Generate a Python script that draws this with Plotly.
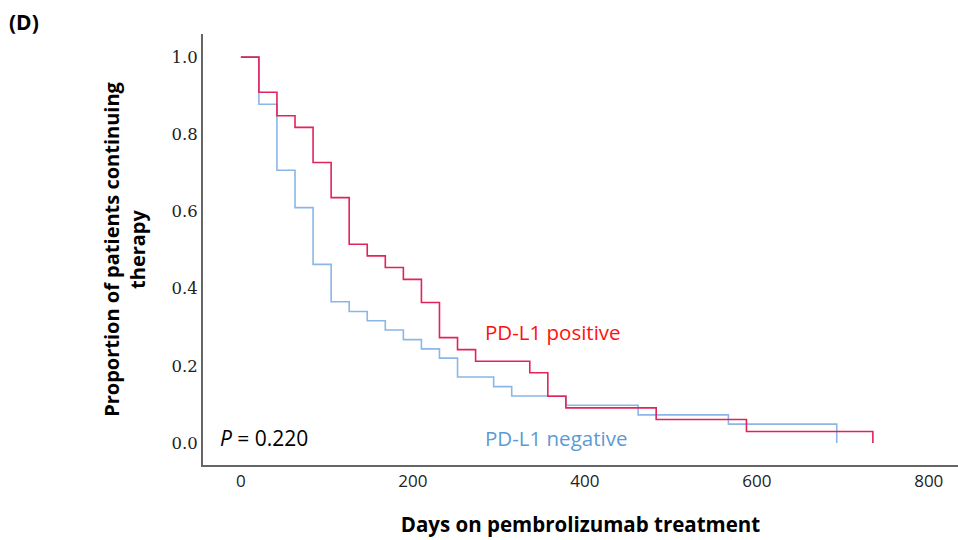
import plotly.graph_objects as go

# PD-L1 negative (blue)
neg_days = [0, 21, 42, 63, 84, 105, 126, 147, 168, 189, 210, 231, 252, 294, 315, 378, 462, 567, 693]
neg_surv = [1.0, 0.878, 0.707, 0.610, 0.463, 0.366, 0.341, 0.317, 0.293, 0.268, 0.244, 0.220, 0.171, 0.146, 0.122, 0.098, 0.073, 0.049, 0.0]

# PD-L1 positive (red)
pos_days = [0, 21, 42, 63, 84, 105, 126, 147, 168, 189, 210, 231, 252, 273, 336, 357, 378, 483, 588, 735]
pos_surv = [1.0, 0.909, 0.848, 0.818, 0.727, 0.636, 0.515, 0.485, 0.455, 0.424, 0.364, 0.273, 0.242, 0.212, 0.182, 0.121, 0.091, 0.061, 0.030, 0.0]

x_ticks = [0, 200, 400, 600, 800]
y_ticks = [0.0, 0.2, 0.4, 0.6, 0.8, 1.0]
y_tick_labels = ["0.0", "0.2", "0.4", "0.6", "0.8", "1.0"]

fig = go.Figure()
fig.add_trace(go.Scatter(x=neg_days, y=neg_surv, mode="lines", line_shape="hv",
                         line=dict(color="#8AB6E8", width=1.6), name="PD-L1 negative",
                         showlegend=False))
fig.add_trace(go.Scatter(x=pos_days, y=pos_surv, mode="lines", line_shape="hv",
                         line=dict(color="#E2235A", width=1.6), name="PD-L1 positive",
                         showlegend=False))

fig.update_layout(
    width=958, height=540,
    margin=dict(l=203, r=0, t=34, b=75),
    paper_bgcolor="white", plot_bgcolor="white",
    xaxis=dict(range=[-44, 834], tickvals=x_ticks, showgrid=False, zeroline=False,
               showline=True, linecolor="#666666", linewidth=2, ticks="",
               tickfont=dict(family="Open Sans", size=17, color="#222222"),
               title=dict(text="<b>Days on pembrolizumab treatment</b>",
                          font=dict(family="Open Sans", size=20.5, color="black"), standoff=26)),
    yaxis=dict(range=[-0.057, 1.06], tickvals=y_ticks, ticktext=y_tick_labels,
               showgrid=False, zeroline=False,
               showline=True, linecolor="#666666", linewidth=2, ticks="",
               tickfont=dict(family="DejaVu Serif", size=16.5, color="#222222"),
               title=dict(text="<b>Proportion of patients continuing<br>therapy</b>",
                          font=dict(family="Open Sans", size=20, color="black"), standoff=20)),
)

fig.add_annotation(x=-0.259, y=1.066, xref="paper", yref="paper", text="<b>(D)</b>",
                   showarrow=False, font=dict(family="Open Sans", size=21, color="black"),
                   xanchor="left", yanchor="top")
fig.add_annotation(x=-27, y=0.013, xref="x", yref="y", text="<i>P</i> = 0.220",
                   showarrow=False, font=dict(family="Open Sans", size=21, color="black"),
                   xanchor="left", yanchor="middle")
fig.add_annotation(x=282, y=0.288, xref="x", yref="y", text="PD-L1 positive",
                   showarrow=False, font=dict(family="Open Sans", size=20.5, color="#FF1010"),
                   xanchor="left", yanchor="middle")
fig.add_annotation(x=282, y=0.013, xref="x", yref="y", text="PD-L1 negative",
                   showarrow=False, font=dict(family="Open Sans", size=20.5, color="#5B9BD5"),
                   xanchor="left", yanchor="middle")

fig.write_html("out.html",
               config={"displayModeBar": False},
               post_script="document.body.style.margin='0px';document.body.style.overflow='hidden';")
